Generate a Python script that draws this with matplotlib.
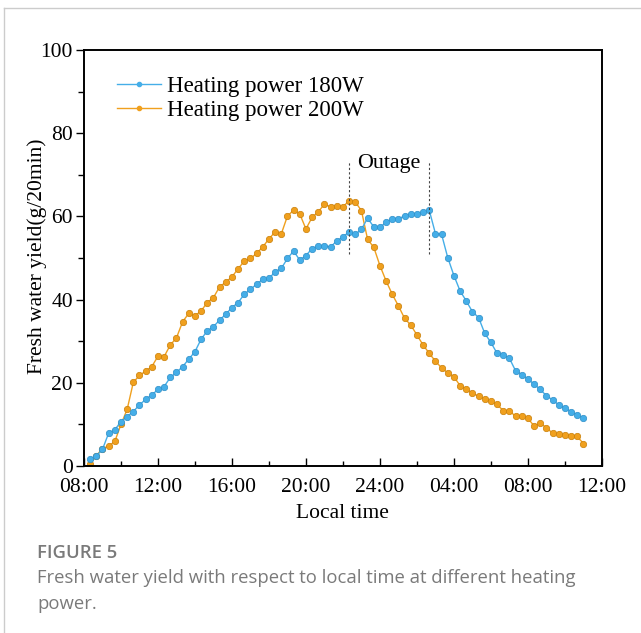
import numpy as np
import matplotlib.pyplot as plt
from matplotlib.ticker import MultipleLocator
from matplotlib.lines import Line2D

# sampling every 20 min, hours after 08:00
hours = np.arange(1, 82) / 3.0

yield_180 = [1.6, 2.4, 4.0, 7.9, 8.7, 10.7, 11.9, 13.1, 14.7, 16.0,
             17.1, 18.4, 19.1, 21.3, 22.5, 23.9, 25.7, 27.5, 30.5, 32.5,
             33.5, 35.1, 36.5, 38.1, 39.3, 41.3, 42.5, 43.7, 44.9, 45.1,
             46.7, 47.5, 49.9, 51.7, 49.5, 50.6, 52.3, 52.9, 52.9, 52.7,
             54.1, 55.1, 56.3, 55.7, 56.9, 59.6, 57.5, 57.4, 58.6, 59.5,
             59.5, 60.1, 60.6, 60.7, 61.0, 61.5, 55.9, 55.7, 50.1, 45.8,
             42.1, 39.7, 37.1, 35.7, 31.9, 29.7, 27.1, 26.8, 25.9, 22.9,
             22.0, 20.9, 19.7, 18.4, 16.9, 15.9, 14.7, 13.9, 13.1, 12.3,
             11.6]

yield_200 = [0.6, 2.5, 4.2, 4.8, 5.9, 10.0, 13.6, 20.1, 21.8, 22.8,
             23.9, 26.4, 26.3, 29.1, 30.8, 34.7, 36.7, 36.1, 37.3, 39.3,
             40.5, 43.1, 44.2, 45.5, 47.4, 49.3, 49.9, 51.1, 52.7, 54.6,
             56.3, 55.8, 60.1, 61.5, 60.6, 57.0, 59.8, 61.1, 63.0, 62.3,
             62.6, 62.3, 63.8, 63.5, 61.4, 54.5, 52.6, 48.2, 44.5, 41.3,
             38.5, 35.5, 33.9, 31.5, 29.1, 27.1, 25.2, 23.6, 22.4, 21.5,
             19.3, 18.5, 17.5, 16.8, 16.1, 15.6, 14.8, 13.3, 13.2, 12.0,
             12.1, 11.5, 9.6, 10.3, 9.2, 7.9, 7.6, 7.5, 7.3, 7.1,
             5.4]

tick_hours = [0, 4, 8, 12, 16, 20, 24, 28]
tick_labels = ["08:00", "12:00", "16:00", "20:00", "24:00", "04:00", "08:00", "12:00"]

outage_start = 14.33   # 22:20
outage_end = 18.67     # 02:40

blue = "#45aee8"
orange = "#f0a01e"

plt.rcParams['font.family'] = ['Liberation Serif', 'DejaVu Serif']

fig = plt.figure(figsize=(6.41, 6.33), dpi=100)
ax = fig.add_axes([0.131, 0.2638, 0.808, 0.657])

ax.plot(hours, yield_180, color=blue, lw=1.0, marker="o", ms=4.6,
        mfc=blue, mec="#2f8fc8", mew=0.5, label="Heating power 180W", zorder=3)
ax.plot(hours, yield_200, color=orange, lw=1.0, marker="o", ms=4.6,
        mfc=orange, mec="#c97f08", mew=0.5, label="Heating power 200W", zorder=2)

# outage marks
for xv in (outage_start, outage_end):
    ax.plot([xv, xv], [51, 73], color="#444444", lw=0.8, ls=(0, (2, 2)), zorder=4)
ax.text((outage_start + outage_end) / 2, 72.8, "Outage", ha="center", va="center", fontsize=15.8)

ax.set_xlim(0, 28)
ax.set_ylim(0, 100)
ax.set_xticks(tick_hours)
ax.set_xticklabels(tick_labels)
ax.xaxis.set_minor_locator(MultipleLocator(2))
ax.yaxis.set_major_locator(MultipleLocator(20))
ax.yaxis.set_minor_locator(MultipleLocator(10))
# x ticks point inward, y ticks outward (as in the original)
ax.tick_params(axis="x", which="both", direction="in", labelsize=15.5, width=1.0)
ax.tick_params(axis="x", which="major", length=6, pad=8.5)
ax.tick_params(axis="x", which="minor", length=3.5)
ax.tick_params(axis="y", which="both", direction="out", labelsize=15.5, width=1.0)
ax.tick_params(axis="y", which="major", length=6, pad=2)
ax.tick_params(axis="y", which="minor", length=4.5)
for s in ax.spines.values():
    s.set_linewidth(1.4)

ax.set_xlabel("Local time", fontsize=15.5, labelpad=5)
ax.set_ylabel("Fresh water yield(g/20min)", fontsize=15.5)
ax.yaxis.set_label_coords(-0.071, 0.505)

handles = [Line2D([], [], color=blue, lw=1.0, marker="o", ms=3, mfc=blue, mec=blue),
           Line2D([], [], color=orange, lw=1.0, marker="o", ms=3, mfc=orange, mec=orange)]
ax.legend(handles, ["Heating power 180W", "Heating power 200W"], loc="upper left",
          frameon=False, fontsize=16.5, handlelength=1.9, handletextpad=0.28,
          labelspacing=0.1, borderpad=0, borderaxespad=0,
          bbox_to_anchor=(0.064, 0.937))

# card frame and caption
fig.add_artist(Line2D([4 / 641, 1], [1 - 8 / 633, 1 - 8 / 633], color="#cccccc", lw=1.0))
fig.add_artist(Line2D([4 / 641, 4 / 641], [0, 1 - 8 / 633], color="#cccccc", lw=1.0))
fig.text(37 / 641, 1 - 553 / 633, "FIGURE 5", family="Open Sans", fontsize=13.3,
         color="#7a7a7a", va="center", weight="semibold")
fig.text(37 / 641, 1 - 578 / 633, "Fresh water yield with respect to local time at different heating",
         family="Open Sans", fontsize=13.3, color="#7a7a7a", va="center")
fig.text(37 / 641, 1 - 604 / 633, "power.", family="Open Sans", fontsize=13.3,
         color="#7a7a7a", va="center")

fig.savefig("out.png", dpi=100)
